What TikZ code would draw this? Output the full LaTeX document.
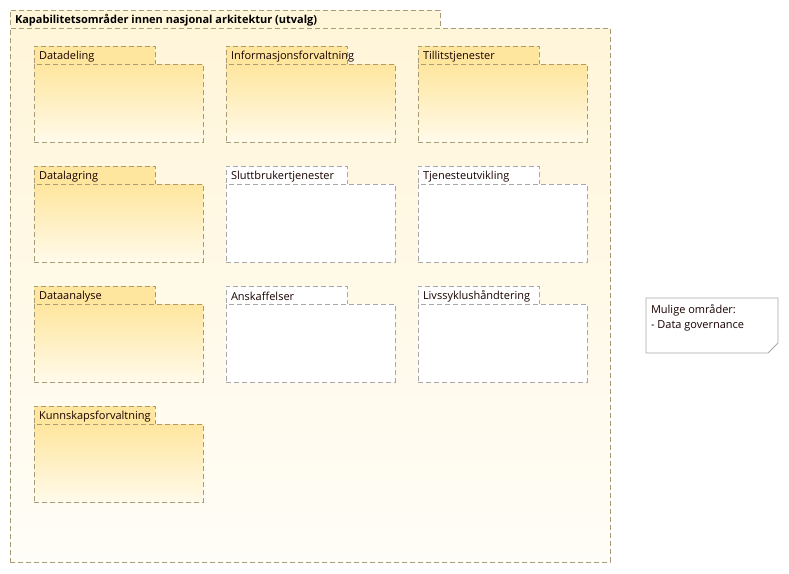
\documentclass[tikz,border=0pt]{standalone}
\usepackage{fontspec}
\setmainfont{Open Sans}
\begin{document}
\begin{tikzpicture}[x=1pt,y=-1pt,
  every node/.style={inner sep=0pt,outer sep=0pt},
  lbl/.style={anchor=west,font=\fontsize{11}{13}\selectfont,text=black!90!red},
  ytab/.style={anchor=north west,draw=pkgline,dash pattern=on 5pt off 3pt,line width=0.9pt,fill=ytabfill,minimum width=121pt,minimum height=18pt},
  ybody/.style={anchor=north west,draw=pkgline,dash pattern=on 5pt off 3pt,line width=0.9pt,top color=ytabfill,bottom color=ybot,minimum width=169pt,minimum height=78pt},
  wtab/.style={ytab,draw=wline,fill=white},
  wbody/.style={ybody,draw=wline,top color=white,bottom color=white},
]
\definecolor{pkgline}{HTML}{A89B78}
\definecolor{wline}{HTML}{A8A8A8}
\definecolor{ytabfill}{HTML}{FFE69E}
\definecolor{ybot}{HTML}{FFFAEA}
\definecolor{otop}{HTML}{FFF5D9}
\definecolor{obot}{HTML}{FFFDF7}
\useasboundingbox[fill=white] (0,0) rectangle (789,573);
% outer package
\node[anchor=north west,draw=pkgline,dash pattern=on 5pt off 3pt,line width=0.9pt,fill=otop,minimum width=430pt,minimum height=18pt] (outertab) at (10,10) {};
\node[anchor=north west,draw=pkgline,dash pattern=on 5pt off 3pt,line width=0.9pt,top color=otop,bottom color=obot,minimum width=600pt,minimum height=534pt] (outer) at (10,28) {};
\node[lbl,font=\fontsize{11}{13}\selectfont\bfseries,text=black] (outerlbl) at (15,20) {Kapabilitetsområder innen nasjonal arkitektur (utvalg)};
% packages
\foreach \n/\x/\y/\t/\k in {
  dd/34/46/Datadeling/y,
  inf/226/46/Informasjonsforvaltning/y,
  til/418/46/Tillitstjenester/y,
  dl/34/166/Datalagring/y,
  slb/226/166/Sluttbrukertjenester/w,
  tju/418/166/Tjenesteutvikling/w,
  da/34/286/Dataanalyse/y,
  ans/226/286/Anskaffelser/w,
  liv/418/286/Livssyklushåndtering/w,
  kun/34/406/Kunnskapsforvaltning/y}{
  \node[\k tab] (\n tab) at (\x,\y) {};
  \node[\k body] (\n) at (\x,\y+18) {};
  \node[lbl] (\n lbl) at (\x+5,\y+10.5) {\t};
}
% note
\coordinate (nnw) at (646,298);
\coordinate (nne) at (778,298);
\coordinate (nse1) at (778,343);
\coordinate (nse2) at (768,353);
\coordinate (nsw) at (646,353);
\draw[wline,line width=0.9pt,fill=white] (nnw) -- (nne) -- (nse1) -- (nse2) -- (nsw) -- cycle;
\node[anchor=north west,align=left,font=\fontsize{11}{15}\selectfont,text=black!90!red] (note) at (651,304.5) {Mulige områder:\\- Data governance};
\end{tikzpicture}
\end{document}
